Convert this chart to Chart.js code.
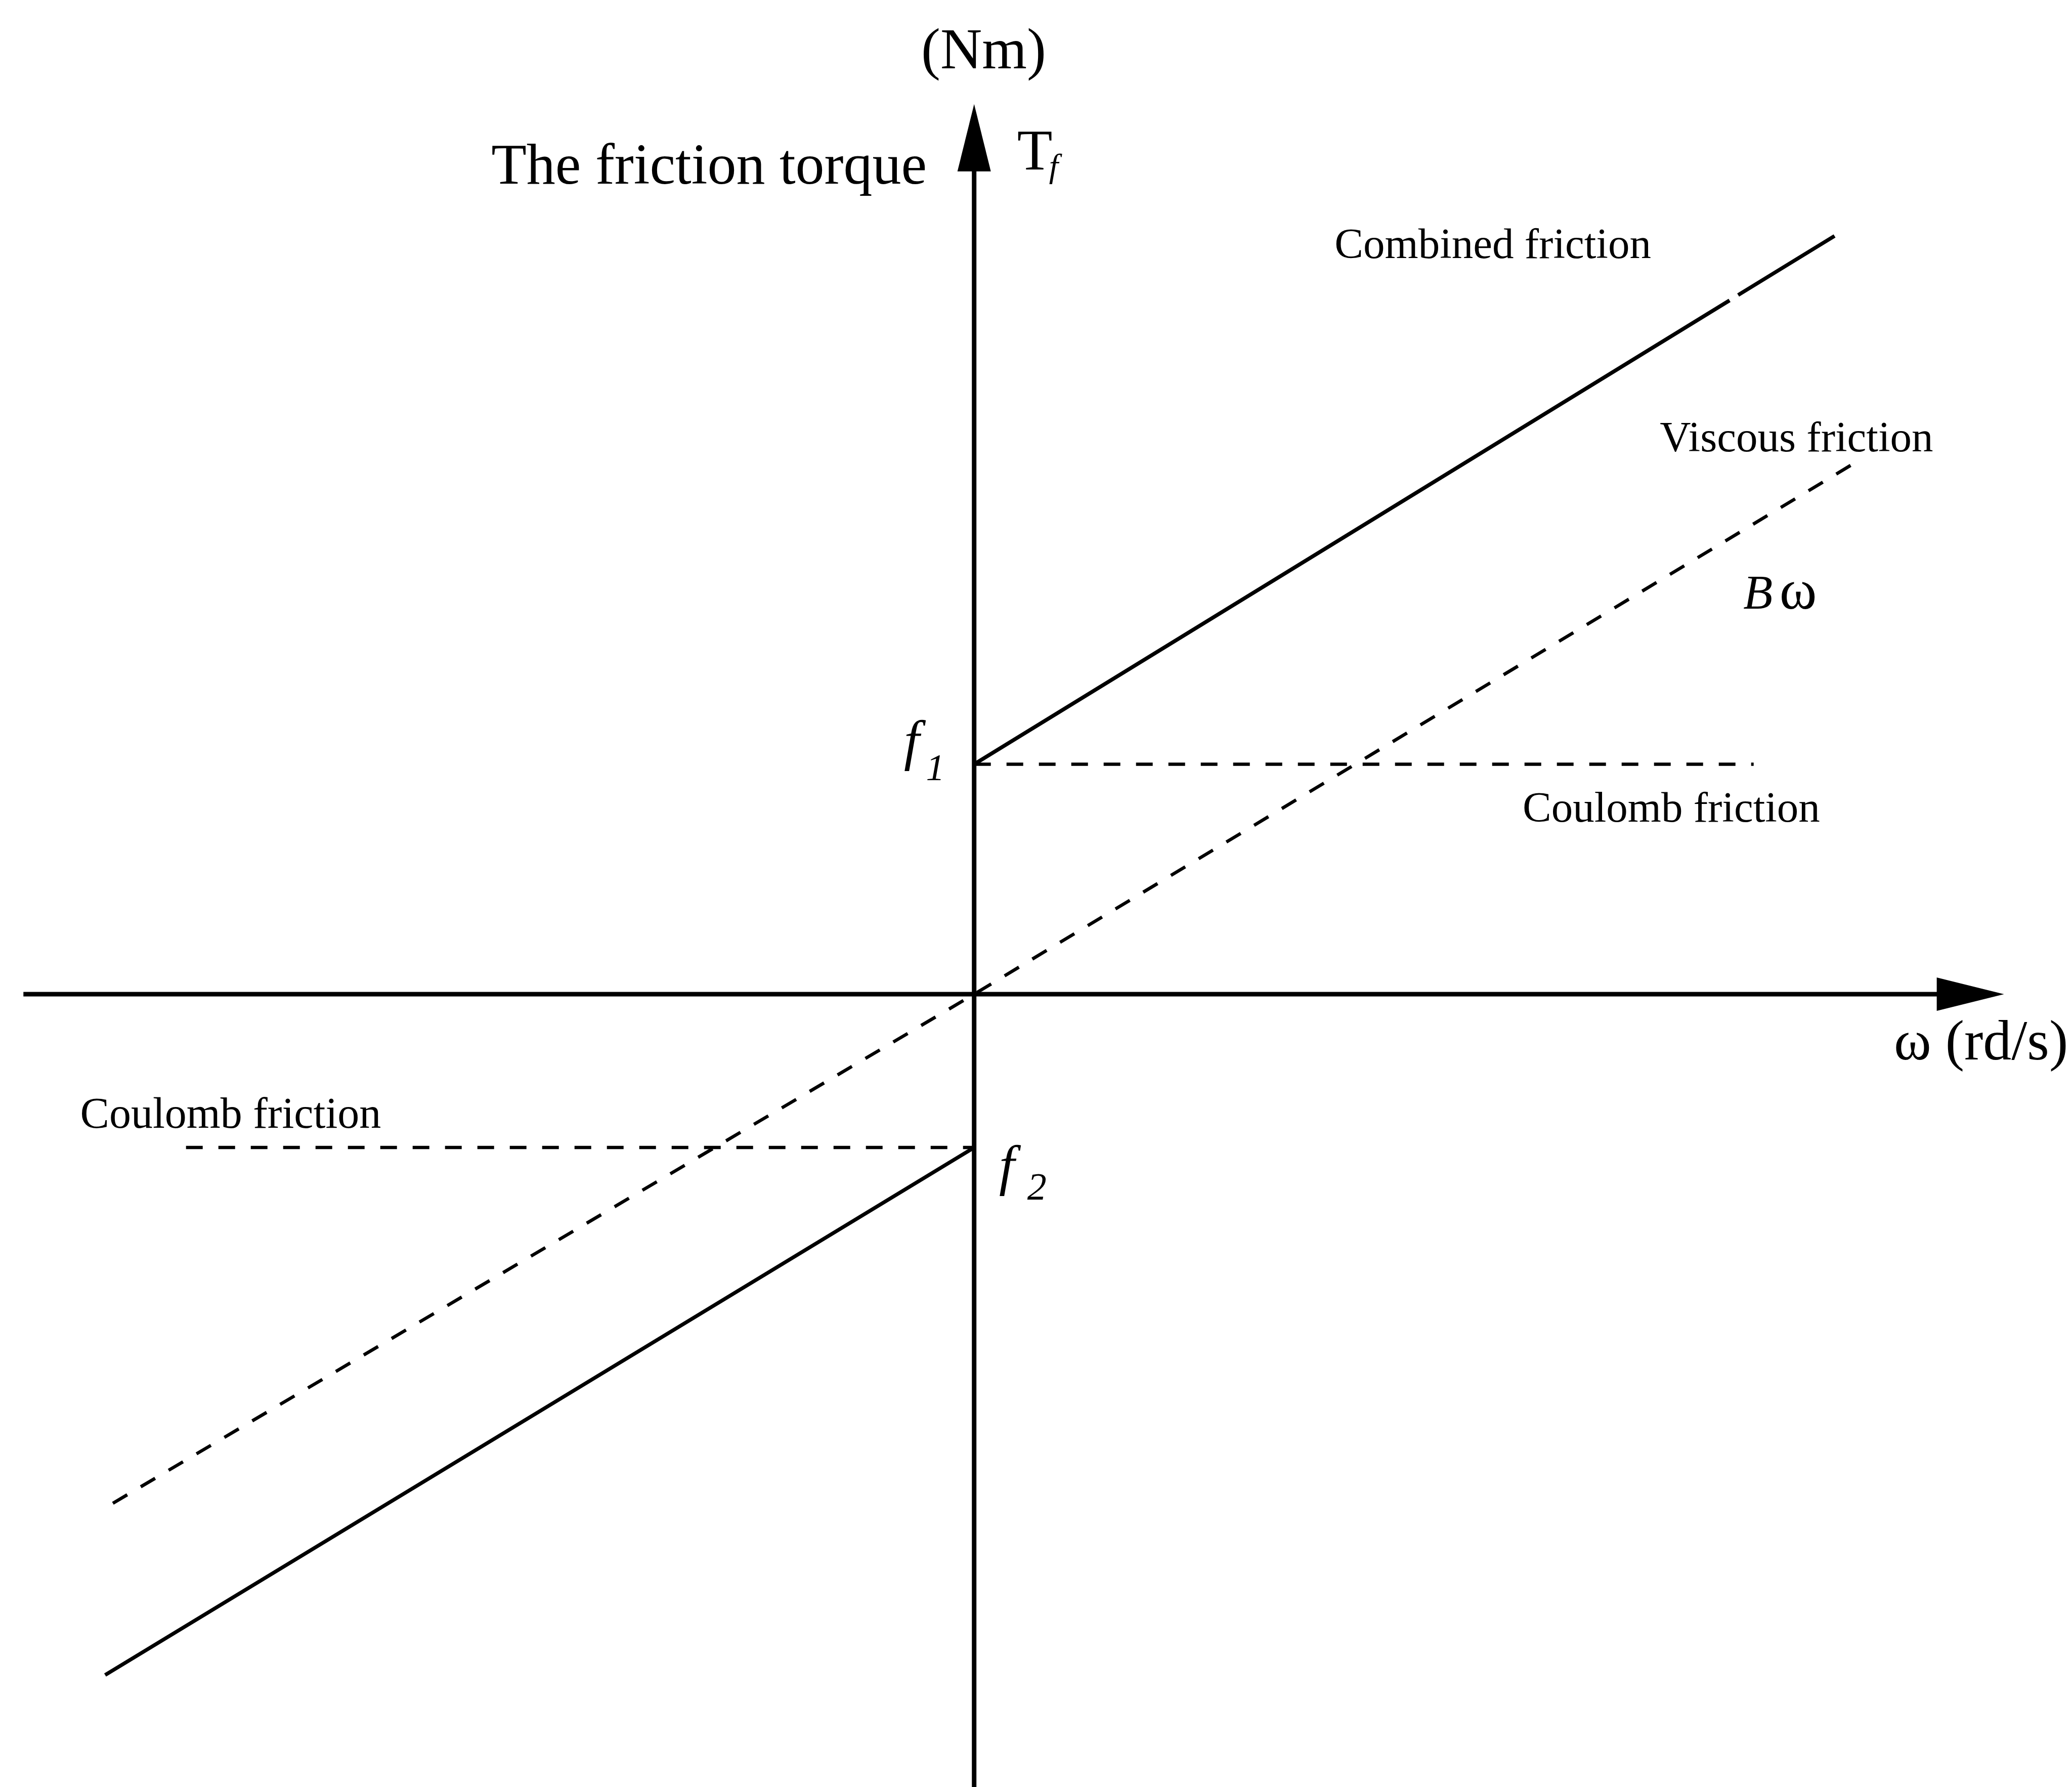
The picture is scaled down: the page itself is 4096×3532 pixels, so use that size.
<!DOCTYPE html>
<html>
<head>
<meta charset="utf-8">
<title>Friction torque</title>
<script src="https://cdn.jsdelivr.net/npm/chart.js@4.4.1/dist/chart.umd.min.js"></script>
<style>
  html, body { margin: 0; padding: 0; background: #fff; }
  canvas { display: block; }
</style>
</head>
<body>
<canvas id="chart" width="4096" height="3532"></canvas>
<script>
// omega (rd/s) and friction torque (Nm) for every curve
const combinedPosW = [0, 8.78, 8.83, 8.88, 10.0];
const combinedPosT = [3, 9.05, null, 9.12, 9.89];
const combinedNegW = [-10.1, 0];
const combinedNegT = [-8.88, -2];
const viscousW = [-10.01, 0, 10.22];
const viscousT = [-6.64, 0, 6.92];
const coulombPosW = [0, 9.06];
const coulombPosT = [3, 3];
const coulombNegW = [-9.16, 0];
const coulombNegT = [-2, -2];

// axis extents (arrows)
const omegaAxis = [-11.05, 11.97];
const torqueAxisTop = 11.61;

const FONT = '"Liberation Serif", "Times New Roman", serif';

// text placed in chart units
const notes = [
  { text: '(Nm)', x: 0.11, y: 12.08, size: 114, align: 'center' },
  { text: 'The friction torque', x: -0.55, y: 10.575, size: 114, align: 'right' },
  { text: 'T', x: 0.50, y: 10.755, size: 114, align: 'left' },
  { text: 'f', x: 0.87, y: 10.66, size: 66, align: 'left', italic: true },
  { text: 'Combined friction', x: 4.19, y: 9.60, size: 85, align: 'left' },
  { text: 'Viscous friction', x: 7.97, y: 7.08, size: 85, align: 'left' },
  { text: 'B', x: 8.94, y: 5.03, size: 95, align: 'left', italic: true },
  { text: '\u03c9', x: 9.36, y: 5.03, size: 112, align: 'left' },
  { text: 'Coulomb friction', x: 6.375, y: 2.25, size: 85, align: 'left' },
  { text: 'Coulomb friction', x: -10.39, y: -1.74, size: 86, align: 'left' },
  { text: 'f', x: -0.815, y: 3.06, size: 110, align: 'left', italic: true },
  { text: '1', x: -0.56, y: 2.795, size: 74, align: 'left', italic: true },
  { text: 'f', x: 0.29, y: -2.48, size: 110, align: 'left', italic: true },
  { text: '2', x: 0.617, y: -2.678, size: 76, align: 'left', italic: true },
  { text: '\u03c9 (rd/s)', x: 10.69, y: -0.853, size: 112, align: 'left' }
];

function pts(w, t) {
  return w.map((x, i) => ({ x: x, y: t[i] }));
}

const axesPlugin = {
  id: 'axes',
  beforeDatasetsDraw(chart) {
    const ctx = chart.ctx;
    const xs = chart.scales.x, ys = chart.scales.y;
    const x0 = xs.getPixelForValue(0);
    const y0 = ys.getPixelForValue(0);
    const head = 133, half = 33;
    ctx.save();
    ctx.strokeStyle = '#000';
    ctx.fillStyle = '#000';
    ctx.lineWidth = 9;

    // omega axis
    const xl = xs.getPixelForValue(omegaAxis[0]);
    const xr = xs.getPixelForValue(omegaAxis[1]);
    ctx.beginPath();
    ctx.moveTo(xl, y0);
    ctx.lineTo(xr - head + 2, y0);
    ctx.stroke();
    ctx.beginPath();
    ctx.moveTo(xr, y0);
    ctx.lineTo(xr - head, y0 - half);
    ctx.lineTo(xr - head, y0 + half);
    ctx.closePath();
    ctx.fill();

    // torque axis
    const yt = ys.getPixelForValue(torqueAxisTop);
    const yb = chart.chartArea.bottom;
    ctx.beginPath();
    ctx.moveTo(x0, yb);
    ctx.lineTo(x0, yt + head - 2);
    ctx.stroke();
    ctx.beginPath();
    ctx.moveTo(x0, yt);
    ctx.lineTo(x0 - half, yt + head);
    ctx.lineTo(x0 + half, yt + head);
    ctx.closePath();
    ctx.fill();
    ctx.restore();
  }
};

const notesPlugin = {
  id: 'notes',
  afterDatasetsDraw(chart) {
    const ctx = chart.ctx;
    const xs = chart.scales.x, ys = chart.scales.y;
    ctx.save();
    ctx.fillStyle = '#000';
    ctx.textBaseline = 'alphabetic';
    notes.forEach(n => {
      ctx.font = (n.italic ? 'italic ' : '') + n.size + 'px ' + FONT;
      ctx.textAlign = n.align;
      ctx.fillText(n.text, xs.getPixelForValue(n.x), ys.getPixelForValue(n.y));
    });
    ctx.restore();
  }
};

const solid = { borderColor: '#000', borderWidth: 7.5, pointRadius: 0, showLine: true, spanGaps: false, fill: false };
const dashed = { borderColor: '#000', borderWidth: 6.5, pointRadius: 0, showLine: true, fill: false, borderDash: [33, 31] };

const ctx = document.getElementById('chart').getContext('2d');
const config = {
  type: 'scatter',
  data: {
    datasets: [
      Object.assign({ label: 'Combined friction', data: pts(combinedPosW, combinedPosT) }, solid),
      Object.assign({ label: 'Combined friction (ω<0)', data: pts(combinedNegW, combinedNegT) }, solid),
      Object.assign({ label: 'Viscous friction', data: pts(viscousW, viscousT) }, dashed),
      Object.assign({ label: 'Coulomb friction', data: pts(coulombPosW, coulombPosT) }, dashed),
      Object.assign({ label: 'Coulomb friction (ω<0)', data: pts(coulombNegW, coulombNegT) }, dashed)
    ]
  },
  options: {
    responsive: false,
    animation: false,
    events: [],
    layout: { padding: 0 },
    plugins: {
      legend: { display: false },
      tooltip: { enabled: false }
    },
    scales: {
      x: { type: 'linear', min: -11.322, max: 12.760, display: false },
      y: { type: 'linear', min: -10.341, max: 12.968, display: false }
    }
  },
  plugins: [axesPlugin, notesPlugin]
};

new Chart(ctx, config);
</script>
</body>
</html>
